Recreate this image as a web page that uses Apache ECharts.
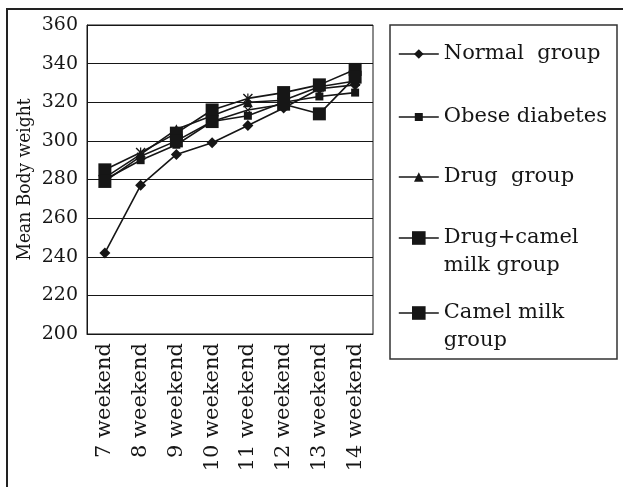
<!DOCTYPE html>
<html>
<head>
<meta charset="utf-8">
<script src="https://cdn.jsdelivr.net/npm/echarts@6/dist/echarts.min.js"></script>
<style>
  html, body { margin: 0; padding: 0; background: #fff; }
  #chart { width: 623px; height: 487px; }
</style>
</head>
<body>
<div id="chart"></div>
<script>
// Weekly mean body weight of the five study groups
const weeks = ['7 weekend', '8 weekend', '9 weekend', '10 weekend', '11 weekend', '12 weekend', '13 weekend', '14 weekend'];
const yTicks = { min: 200, max: 360, step: 20 };

const normalGroup    = [242, 277, 293, 299, 308, 317, 327, 329];
const obeseDiabetes  = [280, 290, 298, 310, 313, 320, 323, 325];
const drugGroup      = [281, 293, 306, 313, 320, 321, 328, 331];
const drugCamelMilk  = [285, 294, 304, 316, 322, 325, 329, 337];
const camelMilkGroup = [279, 292, 300, 310, 316, 319, 314, 333];

const seriesNames = ['Normal  group', 'Obese diabetes', 'Drug  group', 'Drug+camel milk group', 'Camel milk group'];
const legendText  = ['Normal  group', 'Obese diabetes', 'Drug  group', '\nDrug+camel\nmilk group', '\nCamel milk\ngroup'];

const INK = '#161616';
const SERIF = '"DejaVu Serif", "Liberation Serif", serif';

// star / cross glyphs used at a few weeks of the camel-milk groups
const STAR = 'path://M0,1L1,0L10,9L9,10Z M9,0L10,1L1,10L0,9Z M4.4,0L5.6,0L5.6,10L4.4,10Z';
const CROSS = 'path://M0,1L1,0L10,9L9,10Z M9,0L10,1L1,10L0,9Z';

const styles = [
  { symbol: 'diamond',  size: 11, legendH: 12, top: 40,  special: {} },
  { symbol: 'rect',     size: 8,  legendH: 10, top: 103, special: {} },
  { symbol: 'triangle', size: 10, legendH: 12, top: 163, special: {} },
  { symbol: 'rect',     size: 13, legendH: 17, top: 196, special: { 1: [STAR, 10], 4: [STAR, 10] } },
  { symbol: 'rect',     size: 13, legendH: 17, top: 271, special: { 1: [CROSS, 8], 4: [CROSS, 8] } }
];
const values = [normalGroup, obeseDiabetes, drugGroup, drugCamelMilk, camelMilkGroup];

const series = values.map((v, i) => ({
  name: seriesNames[i],
  type: 'line',
  data: v.map((val, k) => {
    const sp = styles[i].special[k];
    return sp ? { value: val, symbol: sp[0], symbolSize: sp[1] } : val;
  }),
  symbol: styles[i].symbol,
  symbolSize: styles[i].size,
  showAllSymbol: true,
  lineStyle: { color: INK, width: 1.6 },
  itemStyle: { color: INK },
  emphasis: { disabled: true },
  animation: false
}));

// One legend block per group so each entry sits at its own height
const legends = seriesNames.map((n, i) => ({
  data: [n],
  left: 398,
  top: styles[i].top,
  padding: 0,
  itemWidth: 40,
  itemHeight: styles[i].legendH,
  selectedMode: false,
  formatter: () => legendText[i],
  textStyle: {
    fontFamily: SERIF,
    fontSize: 21,
    color: INK,
    lineHeight: 28
  },
  lineStyle: { width: 1.6, color: INK }
}));

const chart = echarts.init(document.getElementById('chart'), null, { renderer: 'canvas' });
chart.setOption({
  backgroundColor: '#fff',
  animation: false,
  grid: {
    left: 87, right: 250, top: 25, bottom: 153,
    show: true, borderColor: INK, borderWidth: 1
  },
  legend: legends,
  xAxis: {
    type: 'category',
    data: weeks,
    boundaryGap: true,
    axisLine: { lineStyle: { color: INK, width: 1 } },
    axisTick: { inside: true, length: 8, lineStyle: { color: INK } },
    axisLabel: {
      rotate: 90,
      margin: 9,
      interval: 0,
      fontFamily: SERIF,
      fontSize: 21,
      color: INK
    }
  },
  yAxis: {
    type: 'value',
    min: yTicks.min,
    max: yTicks.max,
    interval: yTicks.step,
    name: 'Mean Body weight',
    nameLocation: 'middle',
    nameGap: 52,
    nameTextStyle: { fontFamily: '"DejaVu Serif Condensed", "Liberation Serif", serif', fontSize: 19, color: INK },
    axisLine: { show: true, lineStyle: { color: INK, width: 1 } },
    axisTick: { show: false },
    axisLabel: { margin: 9, fontFamily: SERIF, fontSize: 19, color: INK },
    splitLine: { show: true, lineStyle: { color: INK, width: 1 } }
  },
  graphic: [
    {
      type: 'rect',
      shape: { x: 7, y: 9, width: 800, height: 800 },
      style: { fill: 'none', stroke: '#222', lineWidth: 2 },
      silent: true
    },
    {
      type: 'rect',
      shape: { x: 390, y: 25, width: 227, height: 334 },
      style: { fill: 'none', stroke: '#333', lineWidth: 1.5 },
      silent: true
    }
  ],
  series: series
});
</script>
</body>
</html>
